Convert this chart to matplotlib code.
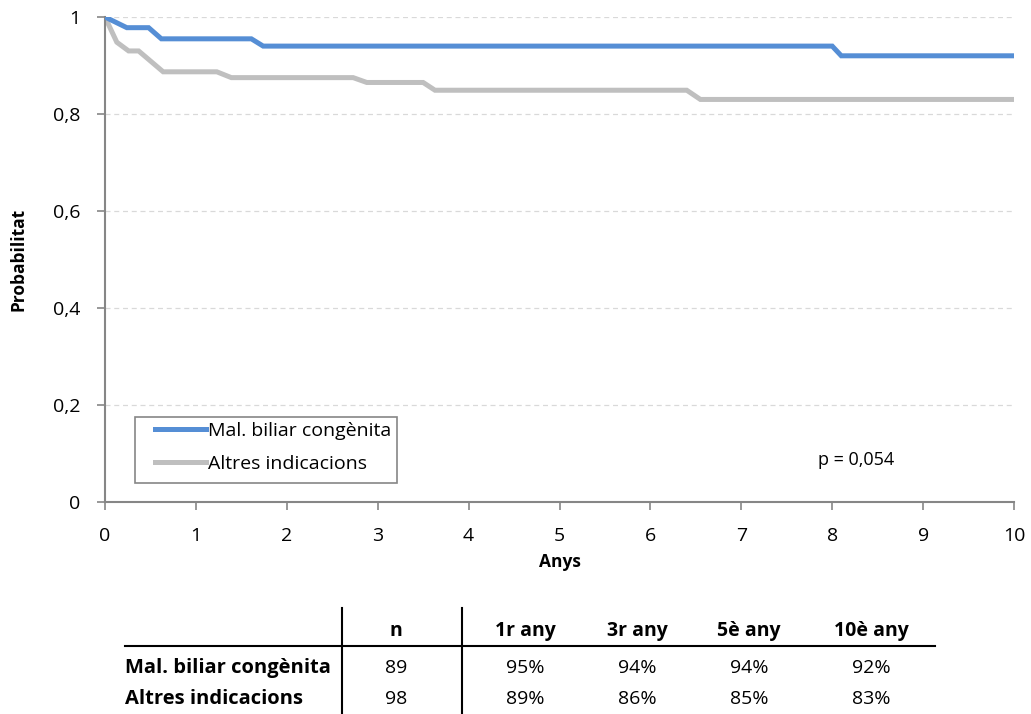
import matplotlib
matplotlib.use("Agg")
import matplotlib.pyplot as plt
from matplotlib.lines import Line2D
from matplotlib.patches import Rectangle

# Kaplan-Meier-like survival estimates (years, probability)
years_mbc = [0, 0.24, 0.48, 0.62, 1.61, 1.74, 8.0, 8.1, 10]
surv_mbc = [1.0, 0.978, 0.978, 0.955, 0.955, 0.940, 0.940, 0.920, 0.920]
years_alt = [0, 0.13, 0.26, 0.37, 0.64, 1.23, 1.39, 2.73, 2.88, 3.50, 3.63, 6.4, 6.55, 10]
surv_alt = [1.0, 0.948, 0.930, 0.930, 0.887, 0.887, 0.875, 0.875, 0.865, 0.865,
            0.849, 0.849, 0.830, 0.830]

series_names = ["Mal. biliar congènita", "Altres indicacions"]
x_ticks = list(range(0, 11))
y_ticks = [0, 0.2, 0.4, 0.6, 0.8, 1]
y_tick_labels = ["0", "0,2", "0,4", "0,6", "0,8", "1"]
p_text = "p = 0,054"

# summary table
table_header = ["n", "1r any", "3r any", "5è any", "10è any"]
table_rows = [
    ["89", "95%", "94%", "94%", "92%"],
    ["98", "89%", "86%", "85%", "83%"],
]

BLUE = "#558ED5"
GREY = "#BFBFBF"
AXIS = "#868686"
FONT = "Open Sans"
FS = 14

plt.rcParams["font.family"] = [FONT, "DejaVu Sans"]

W, H = 1031, 714
fig = plt.figure(figsize=(W / 100, H / 100), dpi=100)
ax = fig.add_axes([105 / W, 1 - 502 / H, (1014 - 105) / W, (502 - 17) / H])

ax.plot(years_mbc, surv_mbc, color=BLUE, linewidth=3.6, solid_joinstyle="miter",
        label=series_names[0], zorder=3)
ax.plot(years_alt, surv_alt, color=GREY, linewidth=3.6, solid_joinstyle="miter",
        label=series_names[1], zorder=2)

ax.set_xlim(0, 10)
ax.set_ylim(0, 1)
ax.set_xticks(x_ticks)
ax.set_yticks(y_ticks)
ax.set_yticklabels(y_tick_labels)
ax.tick_params(axis="both", labelsize=FS, colors=AXIS, labelcolor="black",
               length=6, width=1.2, direction="out")
ax.tick_params(axis="x", pad=12)
ax.tick_params(axis="y", pad=12)

for side in ["top", "right"]:
    ax.spines[side].set_visible(False)
for side in ["left", "bottom"]:
    ax.spines[side].set_color(AXIS)
    ax.spines[side].set_linewidth(1.5)

ax.grid(axis="y", linestyle=(0, (4, 3)), color="#D9D9D9", linewidth=0.9)
ax.set_axisbelow(True)

ax.set_xlabel("Anys", fontsize=12.5, fontweight="bold", labelpad=6)
ax.set_ylabel("Probabilitat", fontsize=12.5, fontweight="bold", labelpad=18)

# legend frame drawn separately (Excel-style wide inner padding)
ax.add_patch(Rectangle((30 / 909, 19 / 485), 262 / 909, 66 / 485,
                       transform=ax.transAxes, fill=True, facecolor="white",
                       edgecolor=AXIS, linewidth=1.2, zorder=4))
leg = ax.legend(loc="upper left", bbox_to_anchor=(50 / 909, 80 / 485),
                fontsize=FS, frameon=False, handlelength=2.6,
                handletextpad=0.15, borderpad=0, labelspacing=0.75,
                borderaxespad=0)
leg.set_zorder(5)

ax.text(0.784, 0.086, p_text, transform=ax.transAxes, fontsize=13,
        ha="left", va="center")

# table drawn in pixel-like coordinates at the bottom of the figure
tab = fig.add_axes([0, 0, 1, 110 / H])
tab.set_xlim(0, W)
tab.set_ylim(H, H - 110)
tab.axis("off")

col_x = [396, 525, 637, 749, 871]
row_y = [631, 668, 699]
tab.add_line(Line2D([125, 935], [646, 646], color="black", linewidth=1.5))
for vx in [342, 462]:
    tab.add_line(Line2D([vx, vx], [608, H], color="black", linewidth=1.5))

for cx, head in zip(col_x, table_header):
    tab.text(cx, row_y[0], head, ha="center", va="center", fontsize=FS,
             fontweight="bold")
for ry, name, vals in zip(row_y[1:], series_names, table_rows):
    tab.text(125, ry, name, ha="left", va="center", fontsize=14.5,
             fontweight="bold")
    for cx, v in zip(col_x, vals):
        tab.text(cx, ry, v, ha="center", va="center", fontsize=FS)

fig.savefig("out.png", dpi=100)
